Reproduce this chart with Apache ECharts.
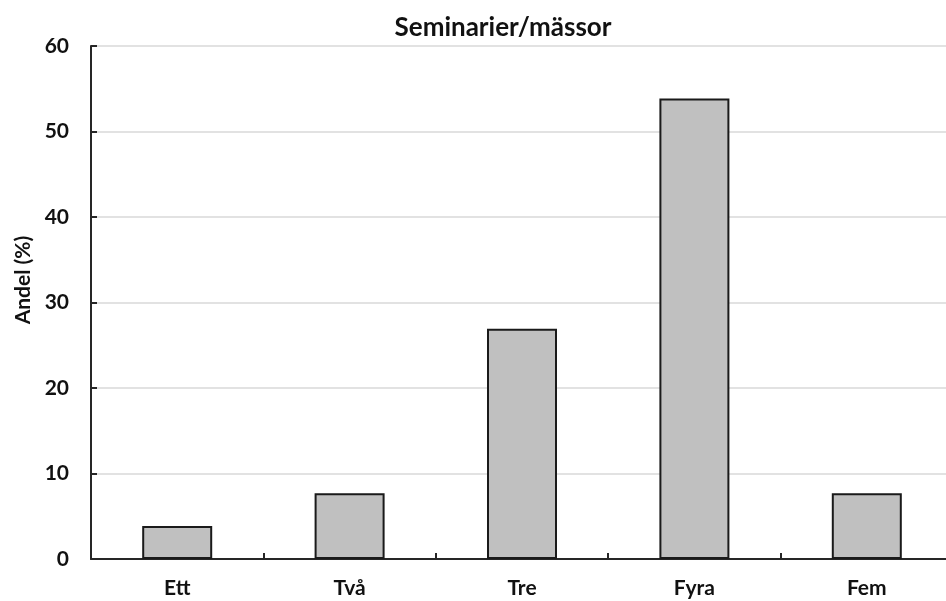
<!DOCTYPE html>
<html>
<head>
<meta charset="utf-8">
<script src="https://cdn.jsdelivr.net/npm/echarts@6/dist/echarts.min.js"></script>
<style>
html,body{margin:0;padding:0;background:#fff;}
#chart{width:946px;height:601px;}
</style>
</head>
<body>
<div id="chart"></div>
<script>
const categories = ['Ett', 'Två', 'Tre', 'Fyra', 'Fem'];
const values = [3.85, 7.69, 26.92, 53.85, 7.69];
const yTicks = [0, 10, 20, 30, 40, 50, 60];

const FONT = 'Lato';
const chart = echarts.init(document.getElementById('chart'));
chart.setOption({
  animation: false,
  backgroundColor: '#fff',
  title: {
    text: 'Seminarier/mässor',
    left: 498,
    textAlign: 'center',
    top: 10,
    textStyle: { fontFamily: FONT, fontWeight: 'bold', fontSize: 26, color: '#111' }
  },
  graphic: [{
    type: 'text',
    x: 23,
    y: 280,
    rotation: Math.PI / 2,
    style: {
      text: 'Andel (%)',
      font: 'bold 21px ' + FONT,
      fill: '#111',
      textAlign: 'center',
      textVerticalAlign: 'middle'
    }
  }],
  grid: { left: 91, top: 46, width: 862, height: 513, containLabel: false, outerBoundsMode: 'none' },
  xAxis: {
    type: 'category',
    data: categories,
    boundaryGap: true,
    axisLine: { lineStyle: { color: '#262626', width: 2 } },
    axisTick: { show: true, inside: true, length: 6, alignWithLabel: false, lineStyle: { color: '#262626', width: 2 } },
    axisLabel: { margin: 19, fontFamily: FONT, fontWeight: 'bold', fontSize: 21, color: '#111' },
    splitLine: { show: false }
  },
  yAxis: {
    type: 'value',
    min: yTicks[0],
    max: yTicks[yTicks.length - 1],
    interval: 10,
    axisLine: { show: true, lineStyle: { color: '#262626', width: 2 } },
    axisTick: { show: true, inside: true, length: 6, lineStyle: { color: '#262626', width: 2 } },
    axisLabel: { margin: 22, fontFamily: FONT, fontWeight: 'bold', fontSize: 21, color: '#111' },
    splitLine: { show: true, lineStyle: { color: '#d9d9d9', width: 1.5 } }
  },
  series: [{
    type: 'bar',
    data: values,
    barWidth: 70,
    itemStyle: { color: '#c0c0c0', borderColor: '#1a1a1a', borderWidth: 2 }
  }]
});
</script>
</body>
</html>
